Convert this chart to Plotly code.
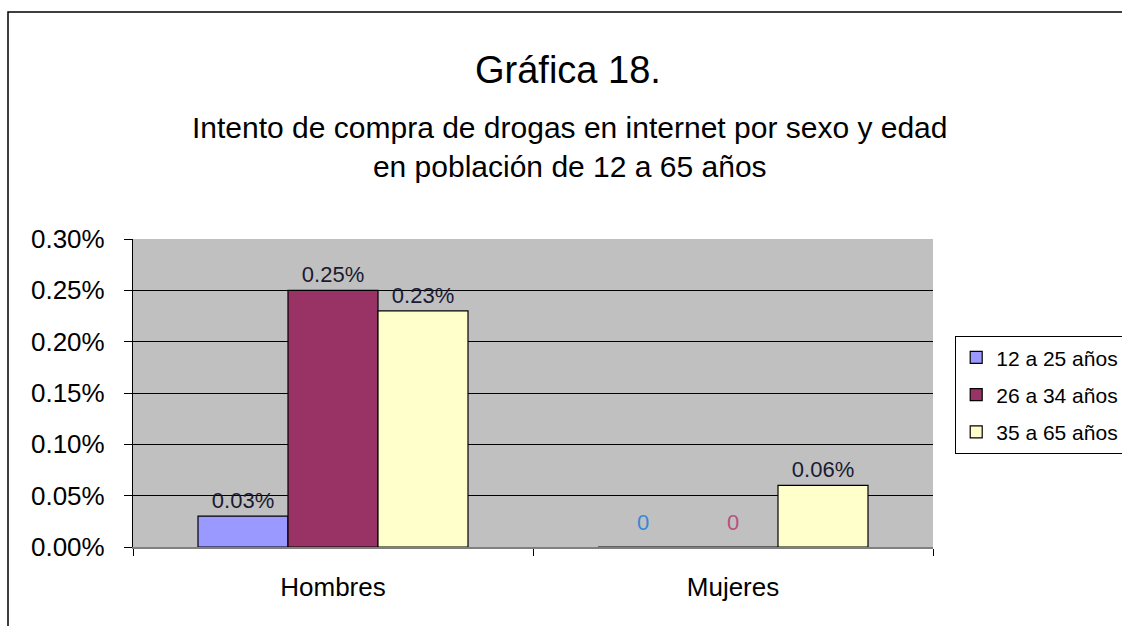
import plotly.graph_objects as go

categories = ["Hombres", "Mujeres"]
series_names = ["12 a 25 años", "26 a 34 años", "35 a 65 años"]
v_12_25 = [0.0003, 0.0]
v_26_34 = [0.0025, 0.0]
v_35_65 = [0.0023, 0.0006]
colors = ["#9999FF", "#993366", "#FFFFCC"]
zero_label_colors = ["#3A86D8", "#B8507C", "#333333"]
y_ticks = [0, 0.0005, 0.001, 0.0015, 0.002, 0.0025, 0.003]

FONT = "Liberation Sans, Arial, sans-serif"
W, H = 1122, 626
L, R, T, B = 133, 933, 239, 547

fig = go.Figure()
all_vals = [v_12_25, v_26_34, v_35_65]
for name, vals, col in zip(series_names, all_vals, colors):
    texts = [f"{v*100:.2f}%" if v > 0 else "" for v in vals]
    fig.add_trace(go.Bar(
        x=categories, y=vals, name=name, legendgroup=name,
        marker=dict(color=col, line=dict(color="#000000", width=1.2)),
        text=texts, textposition="outside", cliponaxis=False,
        textfont=dict(family=FONT, size=22, color="#1a1a33"),
        hoverinfo="skip",
    ))

# zero labels
bar_px = 90
for i, vals in enumerate(all_vals):
    for c, v in zip(categories, vals):
        if v == 0:
            fig.add_annotation(x=c, y=v, xref="x", yref="y", text="0",
                               showarrow=False, xshift=(i - 1) * bar_px, yshift=25,
                               font=dict(family=FONT, size=22, color=zero_label_colors[i]))

def px_x(p):
    return (p - L) / (R - L)

def px_y(p):
    return (B - p) / (B - T)

# outer frame
fig.add_shape(type="rect", xref="paper", yref="paper",
              x0=px_x(8), x1=px_x(1200), y0=px_y(700), y1=px_y(12),
              line=dict(color="#000000", width=1.5), layer="below")

fig.add_annotation(xref="paper", yref="paper", x=px_x(568), y=px_y(70),
                   xanchor="center", yanchor="middle",
                   text="Gráfica 18.", showarrow=False,
                   font=dict(family=FONT, size=38, color="#000000"))
fig.add_annotation(xref="paper", yref="paper", x=px_x(570), y=px_y(147),
                   xanchor="center", yanchor="middle",
                   text="Intento de compra de drogas en internet por sexo y edad<br>en población de 12 a 65 años",
                   showarrow=False,
                   font=dict(family=FONT, size=30, color="#000000"))

fig.update_layout(
    width=W, height=H,
    margin=dict(l=L, r=W - R, t=T, b=H - B, pad=0, autoexpand=False),
    paper_bgcolor="#FFFFFF",
    plot_bgcolor="#C0C0C0",
    barmode="group",
    bargap=0.325,
    bargroupgap=0,
    showlegend=True,
    legend=dict(xref="container", yref="container",
                x=955 / W, y=1 - 336 / H, xanchor="left", yanchor="top",
                bgcolor="#FFFFFF", bordercolor="#000000", borderwidth=1.2,
                font=dict(family=FONT, size=21, color="#000000"),
                itemwidth=30, tracegroupgap=7),
    xaxis=dict(showgrid=False, showline=True, linecolor="#808080", linewidth=1.5,
               ticks="outside", tickson="boundaries", ticklen=7, tickcolor="#000000",
               tickfont=dict(family=FONT, size=26, color="#000000"),
               ticklabelstandoff=16, fixedrange=True, automargin=False),
    yaxis=dict(range=[0, 0.003], tickvals=y_ticks, tickformat=".2%",
               showgrid=True, gridcolor="#000000", gridwidth=1,
               showline=True, linecolor="#000000", linewidth=1.2,
               ticks="outside", ticklen=8, tickcolor="#000000",
               tickfont=dict(family=FONT, size=26, color="#000000"),
               ticklabelstandoff=14, automargin=False,
               zeroline=False, fixedrange=True),
)

fig.write_html("out.html", config={"displayModeBar": False},
               post_script="document.body.style.margin='0px';")
